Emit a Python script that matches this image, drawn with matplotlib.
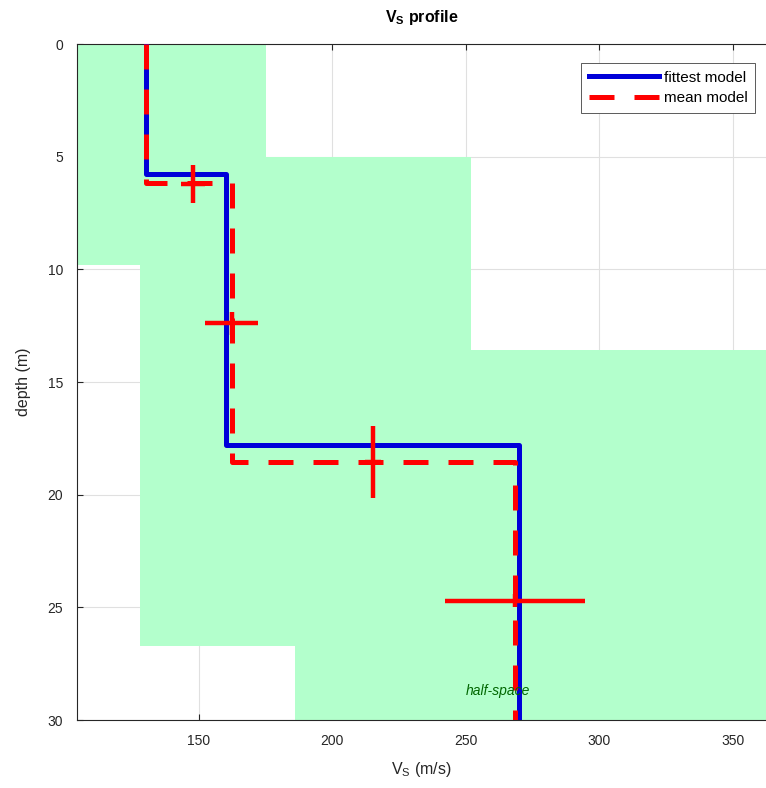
import numpy as np
import matplotlib
matplotlib.use("Agg")
import matplotlib.pyplot as plt

plt.rcParams['font.family'] = ['Liberation Sans', 'DejaVu Sans']

# search bounds (shaded envelope)
bound_depth = [0, 5.0, 9.8, 13.6, 26.7, 30]
bound_vs_min = [100, 100, 128, 128, 186]
bound_vs_max = [175, 252, 252, 400, 400]

# fittest model
fit_depth = [0, 5.77, 17.8, 30]
fit_vs = [130, 160, 270]

# mean model
mean_depth = [0, 6.17, 18.54, 30]
mean_vs = [130, 162.2, 268.5]

# error crosses
err_vs = [147.8, 162.2, 215.2, 268.4]
err_depth = [6.2, 12.4, 18.54, 24.7]
err_vs_std = [4.4, 10, 3, 26.3]
err_depth_std = [0.85, 0.5, 1.6, 0.3]


def steps(depth, vs):
    y = np.repeat(depth, 2)[1:-1]
    x = np.repeat(vs, 2)
    return x, y


fig = plt.figure(figsize=(7.66, 7.88), dpi=100)
ax = fig.add_axes([77 / 766, 1 - 720 / 788, 1 - 77 / 766, 676 / 788])

green = (0.7, 1.0, 0.8)
ax.fill_betweenx(bound_depth, bound_vs_min + [bound_vs_min[-1]],
                 bound_vs_max + [bound_vs_max[-1]], step='post',
                 color=green, lw=0, zorder=1)

x, y = steps(fit_depth, fit_vs)
ax.plot(x, y, color=(0, 0, 0.85), lw=3.6, label='fittest model', zorder=3)
x, y = steps(mean_depth, mean_vs)
ax.plot(x, y, color='red', lw=3.6, ls=(0, (5, 4)), label='mean model', zorder=4)

ax.errorbar(err_vs, err_depth, xerr=err_vs_std, yerr=err_depth_std, fmt='none',
            ecolor='red', elinewidth=3.2, capsize=0, zorder=5)

ax.text(262, 28.7, 'half-space', style='italic', color=(0, 0.4, 0),
        fontsize=10, ha='center', va='center', zorder=6)

ax.set_xlim(104.3, 362.5)
ax.set_ylim(30, 0)
ax.set_xticks([150, 200, 250, 300, 350])
ax.set_yticks([0, 5, 10, 15, 20, 25, 30])
ax.grid(True, color=(0.88, 0.88, 0.88), lw=0.8)
ax.set_axisbelow(True)
ax.tick_params(direction='in', top=True, right=False, length=4,
               labelsize=10, colors=(0.15, 0.15, 0.15), pad=10)
for s in ['left', 'top', 'bottom']:
    ax.spines[s].set_color((0.15, 0.15, 0.15))
ax.spines['right'].set_visible(False)

ax.set_xlabel('V$_\\mathregular{S}$ (m/s)', fontsize=11.5, color=(0.15, 0.15, 0.15), labelpad=9)
ax.set_ylabel('depth (m)', fontsize=11.5, color=(0.15, 0.15, 0.15), labelpad=12)
ax.set_title('V$_\\mathregular{S}$ profile', fontsize=11.5, fontweight='bold', pad=16)

leg = ax.legend(loc='upper right', bbox_to_anchor=(0.984, 0.972), fontsize=11,
                handlelength=4.6, fancybox=False, framealpha=1,
                edgecolor=(0.25, 0.25, 0.25), borderpad=0.5, labelspacing=0.45,
                handletextpad=0.3, borderaxespad=0)
leg.get_frame().set_linewidth(0.6)

fig.savefig('out.png', dpi=100)
